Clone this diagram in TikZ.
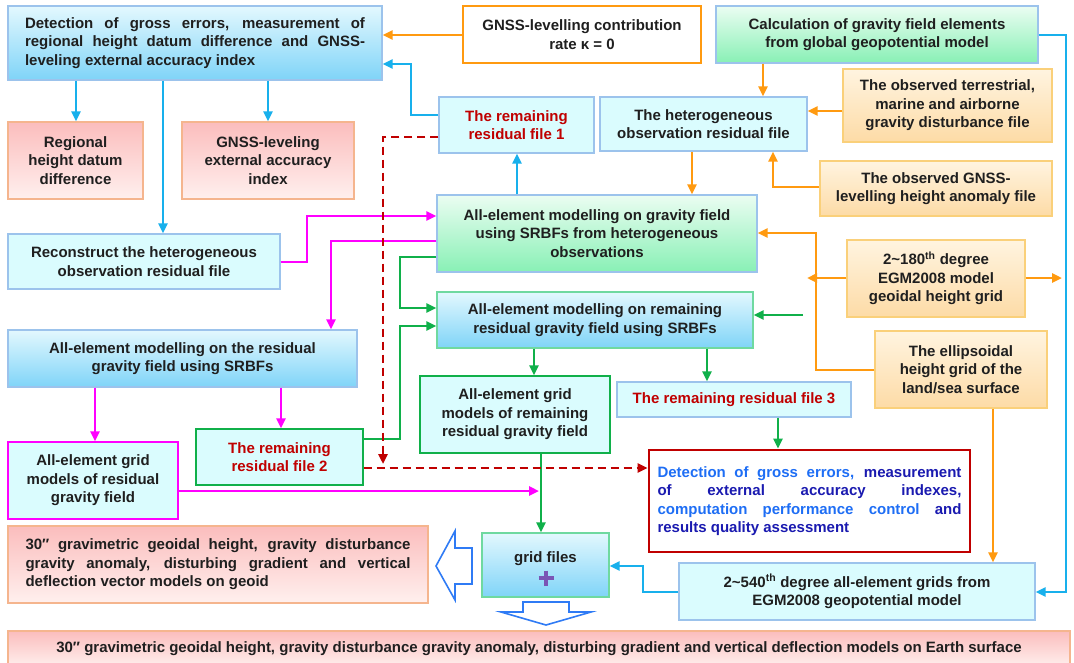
\documentclass[tikz,border=0pt]{standalone}
\usepackage{fontspec}
\setmainfont{Liberation Sans}
\usetikzlibrary{arrows.meta}
\definecolor{txt}{HTML}{1F1F1F}
\definecolor{cyanf}{HTML}{DAFCFE}
\definecolor{lbb}{HTML}{9CC3EC}
\definecolor{blueTop}{HTML}{E3F8FE}
\definecolor{blueBot}{HTML}{7FD4F8}
\definecolor{greenTop}{HTML}{EBFDF2}
\definecolor{greenBot}{HTML}{88F0B5}
\definecolor{pinkTop}{HTML}{FBBDBD}
\definecolor{pinkBot}{HTML}{FFF0EE}
\definecolor{pinkB}{HTML}{F5B58E}
\definecolor{orTop}{HTML}{FFF4E0}
\definecolor{orBot}{HTML}{FDDBA6}
\definecolor{orB}{HTML}{FAD07A}
\definecolor{cBlue}{HTML}{18B0EC}
\definecolor{cOr}{HTML}{FF9A10}
\definecolor{cMg}{HTML}{FF00FF}
\definecolor{cGr}{HTML}{10B04A}
\definecolor{cDr}{HTML}{C00000}
\definecolor{hollowc}{HTML}{2F7BF5}
\definecolor{lblue}{HTML}{1E6EF5}
\definecolor{dblue}{HTML}{1A1AB0}
\definecolor{plusc}{HTML}{7A55B5}
\definecolor{grB}{HTML}{6FD9A0}
\begin{document}
\begin{tikzpicture}[x=1pt,y=-1pt,
  box/.style={draw, line width=1.2pt, inner sep=0pt, align=center, text=txt,
    font=\bfseries\fontsize{15}{18.5}\selectfont},
  cy/.style={box, fill=cyanf, draw=lbb},
  bluegrad/.style={box, top color=blueTop, bottom color=blueBot, draw=lbb},
  greengrad/.style={box, top color=greenTop, bottom color=greenBot, draw=lbb},
  pinkgrad/.style={box, top color=pinkTop, bottom color=pinkBot, draw=pinkB},
  orgrad/.style={box, top color=orTop, bottom color=orBot, draw=orB},
  redtxt/.style={text=cDr},
  arr/.style={-{Triangle[length=10pt,width=9pt]}},
  bl/.style={cBlue, line width=2.7pt, arr},
  orl/.style={cOr, line width=2.7pt, arr},
  mg/.style={cMg, line width=2.7pt, arr},
  gr/.style={cGr, line width=2.7pt, arr},
  dr/.style={cDr, line width=2.5pt, dash pattern=on 8pt off 5pt, arr},
  hollow/.style={draw=hollowc, line width=1.6pt, fill=white, line join=miter},
  plusline/.style={plusc, line width=3.6pt}
]
\useasboundingbox (0,0) rectangle (1074,662);
\fill[white] (0,0) rectangle (1074,662);

% nodes
\node[bluegrad, minimum width=374pt, minimum height=74pt, text width=340pt, align=justify] (detect) at (195,43)
 {Detection of gross errors, measurement of\linebreak regional height datum difference and GNSS-\linebreak leveling external accuracy index};
\node[box, fill=white, draw=cOr, line width=2.6pt, minimum width=238pt, minimum height=57pt] (kappa) at (582,34.5)
 {GNSS-levelling contribution\\rate κ = 0};
\node[greengrad, minimum width=322pt, minimum height=57pt] (calc) at (877,34.5)
 {Calculation of gravity field elements\\from global geopotential model};
\node[pinkgrad, minimum width=135pt, minimum height=77pt] (regional) at (75.5,160.5)
 {Regional\\height datum\\difference};
\node[pinkgrad, minimum width=172pt, minimum height=77pt] (gnssext) at (268,160.5)
 {GNSS-leveling\\external accuracy\\index};
\node[cy, redtxt, minimum width=155pt, minimum height=56pt] (rem1) at (516.5,125)
 {The remaining\\residual file 1};
\node[cy, minimum width=207pt, minimum height=54pt] (hetero) at (703.5,124)
 {The heterogeneous\\observation residual file};
\node[orgrad, minimum width=209pt, minimum height=73pt] (terr) at (947.5,105.5)
 {The observed terrestrial,\\marine and airborne\\gravity disturbance file};
\node[orgrad, minimum width=232pt, minimum height=55pt] (gnssobs) at (936,188.5)
 {The observed GNSS-\\levelling height anomaly file};
\node[cy, minimum width=272pt, minimum height=55pt] (recon) at (144,261.5)
 {Reconstruct the heterogeneous\\observation residual file};
\node[greengrad, minimum width=320pt, minimum height=77pt] (allgrav) at (597,233.5)
 {All-element modelling on gravity field\\using SRBFs from heterogeneous\\observations};
\node[orgrad, minimum width=178pt, minimum height=77pt] (egm180) at (936,278.5)
 {2\textasciitilde 180\textsuperscript{th} degree\\EGM2008 model\\geoidal height grid};
\node[bluegrad, draw=grB, minimum width=316pt, minimum height=56pt] (remmod) at (595,320)
 {All-element modelling on remaining\\residual gravity field using SRBFs};
\node[bluegrad, minimum width=349pt, minimum height=57pt] (resmod) at (182.5,358.5)
 {All-element modelling on the residual\\gravity field using SRBFs};
\node[orgrad, minimum width=172pt, minimum height=77pt] (ellip) at (961,369.5)
 {The ellipsoidal\\height grid of the\\land/sea surface};
\node[cy, draw=cGr, minimum width=190pt, minimum height=77pt] (gridrem) at (515,414.5)
 {All-element grid\\models of remaining\\residual gravity field};
\node[cy, redtxt, minimum width=234pt, minimum height=35pt] (rem3) at (734,399.5)
 {The remaining residual file 3};
\node[cy, redtxt, draw=cGr, minimum width=167pt, minimum height=56pt] (rem2) at (279.5,457)
 {The remaining\\residual file 2};
\node[cy, draw=cMg, minimum width=170pt, minimum height=77pt] (gridres) at (93,480.5)
 {All-element grid\\models of residual\\gravity field};
\node[box, fill=white, draw=cDr, line width=2.8pt, minimum width=321pt, minimum height=102pt, text width=304pt, align=justify] (quality) at (809.5,501)
 {{\color{lblue}Detection of gross errors,} {\color{dblue}measurement\linebreak of external accuracy indexes,}\linebreak {\color{lblue}computation performance control} {\color{dblue}and\linebreak results quality assessment}};
\node[pinkgrad, minimum width=420pt, minimum height=77pt, text width=385pt, align=justify] (geoid) at (218,564.5)
 {30″ gravimetric geoidal height, gravity disturbance\linebreak gravity anomaly, disturbing gradient and vertical\linebreak deflection vector models on geoid};
\node[bluegrad, draw=grB, minimum width=127pt, minimum height=64pt, text depth=15pt] (gridf) at (545.5,565)
 {grid files};
\node[cy, minimum width=356pt, minimum height=57pt] (egm540) at (857,591.5)
 {2\textasciitilde 540\textsuperscript{th} degree all-element grids from\\EGM2008 geopotential model};
\node[pinkgrad, minimum width=1062pt, minimum height=36pt] (surface) at (539,649)
 {30″ gravimetric geoidal height, gravity disturbance gravity anomaly, disturbing gradient and vertical deflection models on Earth surface};

% plus sign inside grid files
\draw[plusline] (538.5,578) -- (553.5,578);
\draw[plusline] (546,570.5) -- (546,585.5);

% free-end coordinates
\coordinate (oj1) at (807,278);
\coordinate (oj2) at (1062,278);
\coordinate (gfree) at (803,315);
\coordinate (mgend) at (539,491);

% blue connectors
\draw[bl] (rem1.west |- 0,115) -| (411,64) -- (detect.east |- 0,64);
\draw[bl] (detect.south -| 76,0) -- (regional.north -| 76,0);
\draw[bl] (detect.south -| 268,0) -- (gnssext.north -| 268,0);
\draw[bl] (detect.south -| 163,0) -- (recon.north -| 163,0);
\draw[bl] (allgrav.north -| 517,0) -- (rem1.south -| 517,0);
\draw[bl] (calc.east |- 0,35) -| (1066,592) -- (egm540.east |- 0,592);
\draw[bl] (egm540.west |- 0,592) -| (643,566) -- (gridf.east |- 0,566);

% orange connectors
\draw[orl] (kappa.west |- 0,35) -- (detect.east |- 0,35);
\draw[orl] (calc.south -| 763,0) -- (hetero.north -| 763,0);
\draw[orl] (terr.west |- 0,111) -- (hetero.east |- 0,111);
\draw[orl] (gnssobs.west |- 0,187) -| (hetero.south -| 773,0);
\draw[orl] (hetero.south -| 692,0) -- (allgrav.north -| 692,0);
\draw[orl] (ellip.west |- 0,370) -| (816,233) -- (allgrav.east |- 0,233);
\draw[orl] (egm180.west |- 0,278) -- (oj1);
\draw[orl] (egm180.east |- 0,278) -- (oj2);
\draw[orl] (ellip.south -| 993,0) -- (egm540.north -| 993,0);

% magenta connectors
\draw[mg] (recon.east |- 0,262) -| (307,216) -- (allgrav.west |- 0,216);
\draw[mg] (allgrav.west |- 0,241) -| (resmod.north -| 331,0);
\draw[mg] (resmod.south -| 95,0) -- (gridres.north -| 95,0);
\draw[mg] (resmod.south -| 281,0) -- (rem2.north -| 281,0);
\draw[mg] (gridres.east |- 0,491) -- (mgend);

% green connectors
\draw[gr] (allgrav.west |- 0,257) -| (400,308) -- (remmod.west |- 0,308);
\draw[gr] (rem2.east |- 0,439) -| (400,326) -- (remmod.west |- 0,326);
\draw[gr] (remmod.south -| 534,0) -- (gridrem.north -| 534,0);
\draw[gr] (remmod.south -| 707,0) -- (rem3.north -| 707,0);
\draw[gr] (gridrem.south -| 541,0) -- (gridf.north -| 541,0);
\draw[gr] (rem3.south -| 778,0) -- (quality.north -| 778,0);
\draw[gr] (gfree) -- (remmod.east |- 0,315);

% dark red dashed
\draw[dr] (rem1.west |- 0,137) -| (383,464);
\draw[dr] (rem2.east |- 0,468) -- (quality.west |- 0,468);

% hollow arrows
\draw[hollow] (436,566) -- (455,531) -- (455,548) -- (472,548) -- (472,584) -- (455,584) -- (455,600) -- cycle;
\draw[hollow] (523,602) -- (569,602) -- (569,612) -- (591,612) -- (546,625) -- (501,612) -- (523,612) -- cycle;
\end{tikzpicture}
\end{document}
